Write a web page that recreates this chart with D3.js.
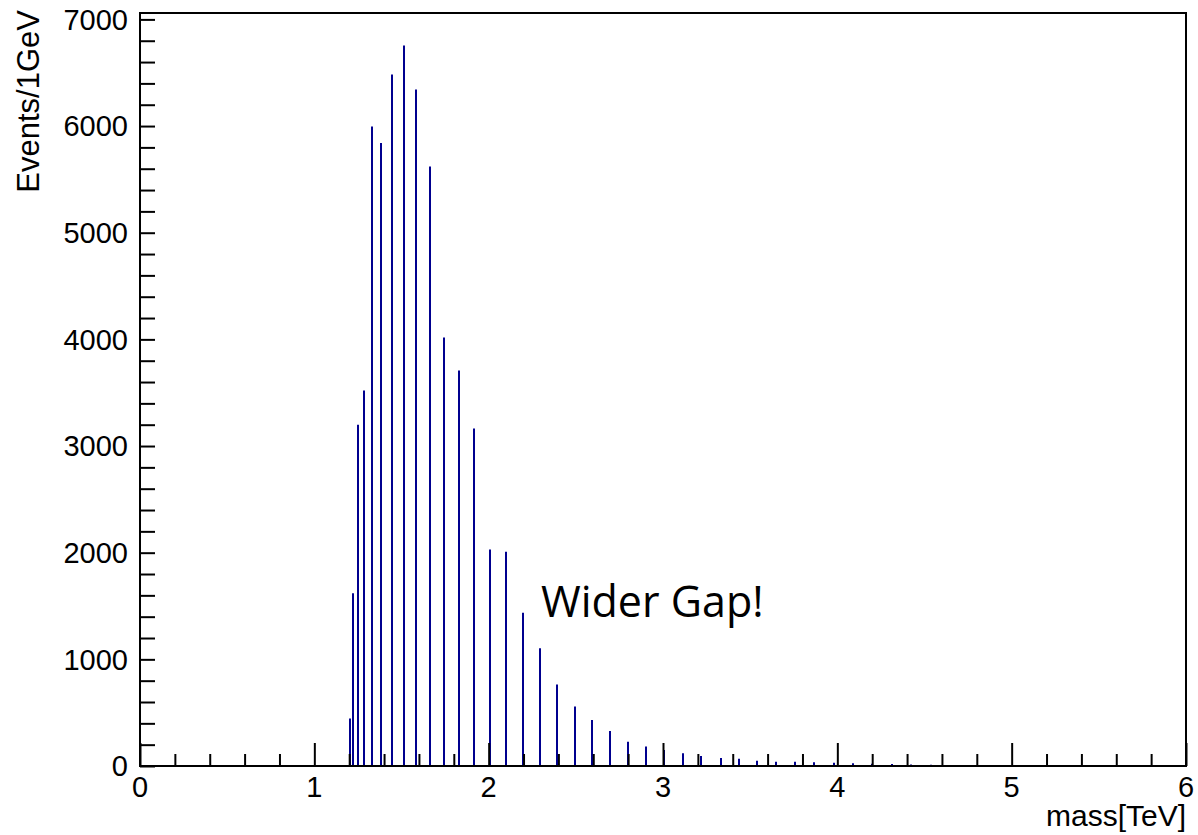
<!DOCTYPE html>
<html>
<head>
<meta charset="utf-8">
<script src="https://cdn.jsdelivr.net/npm/d3@7"></script>
<style>
  body { margin: 0; background: #fff; }
  svg { display: block; }
</style>
</head>
<body>
<svg id="chart"></svg>
<script>
// spike positions in TeV (one 1 GeV bin each) and their contents
const masses = [1.206, 1.221, 1.250, 1.286, 1.332, 1.385, 1.447, 1.512, 1.586, 1.661,
    1.745, 1.827, 1.917, 2.007, 2.101, 2.195, 2.292, 2.392, 2.493, 2.593,
    2.696, 2.800, 2.903, 3.008, 3.113, 3.220, 3.330, 3.434, 3.542, 3.651,
    3.760, 3.869, 3.980, 4.091, 4.200, 4.315, 4.420, 4.535, 4.640, 4.753,
    4.860, 4.970, 5.080, 5.190, 5.300, 5.410, 5.520, 5.630, 5.740, 5.850, 5.960];
const events = [445, 1620, 3200, 3520, 5995, 5840, 6483, 6755, 6342, 5620,
    4018, 3709, 3165, 2030, 2009, 1438, 1103, 763, 557, 431,
    328, 228, 182, 150, 119, 94, 75, 69, 50, 41,
    41, 35, 30, 25, 20, 18, 14, 12, 10, 9,
    8, 7, 6, 5, 5, 4, 4, 3, 3, 2, 2];

const xMajor = [0, 1, 2, 3, 4, 5, 6];
const yMajor = [0, 1000, 2000, 3000, 4000, 5000, 6000, 7000];
const xLabel = "mass[TeV]";
const yLabel = "Events/1GeV";
const note = "Wider Gap!";

const W = 1198, H = 835;
const frame = {left: 140, right: 1186, top: 13, bottom: 766};
const histColor = "#00008f";

const x = d3.scaleLinear().domain([0, 6]).range([frame.left, frame.right]);
const y = d3.scaleLinear().domain([0, 7060]).range([frame.bottom, frame.top]);

const svg = d3.select("#chart").attr("width", W).attr("height", H);
svg.append("rect").attr("width", W).attr("height", H).attr("fill", "#fff");

const data = masses.map((m, i) => ({m: m, n: events[i]}));

// baseline of the histogram
svg.append("line")
    .attr("x1", x(0)).attr("x2", x(6))
    .attr("y1", y(0)).attr("y2", y(0))
    .attr("stroke", histColor)
    .attr("stroke-width", 2);

// spikes, snapped to whole pixels so they stay crisp
svg.append("g")
    .selectAll("line")
    .data(data)
    .join("line")
    .attr("x1", d => Math.round(x(d.m)))
    .attr("x2", d => Math.round(x(d.m)))
    .attr("y1", y(0))
    .attr("y2", d => y(d.n))
    .attr("stroke", histColor)
    .attr("stroke-width", 2);

// frame
svg.append("rect")
    .attr("x", frame.left).attr("y", frame.top)
    .attr("width", frame.right - frame.left)
    .attr("height", frame.bottom - frame.top)
    .attr("fill", "none")
    .attr("stroke", "#000")
    .attr("stroke-width", 2);

const xMinor = d3.range(0, 31).map(i => i * 0.2).filter(v => Math.abs(v - Math.round(v)) > 1e-6);
const yMinor = d3.range(0, 36).map(i => i * 200).filter(v => v % 1000 !== 0);

// x axis: ticks point up into the frame
const xAxis = svg.append("g").attr("transform", "translate(0," + frame.bottom + ")");
xAxis.call(d3.axisTop(x).tickValues(xMinor).tickSize(12).tickFormat(""));
xAxis.call(g => g.select(".domain").remove());
const xAxisMajor = svg.append("g").attr("transform", "translate(0," + frame.bottom + ")");
xAxisMajor.call(d3.axisTop(x).tickValues(xMajor).tickSize(23).tickFormat(""));
xAxisMajor.call(g => g.select(".domain").remove());
svg.selectAll(".tick line").attr("stroke-width", 2);

svg.append("g")
    .attr("font-family", "'Liberation Sans', Arial, sans-serif")
    .attr("font-size", 29)
    .attr("text-anchor", "middle")
    .selectAll("text")
    .data(xMajor)
    .join("text")
    .attr("x", d => x(d))
    .attr("y", 797)
    .text(d => d);

// y axis: ticks point right into the frame
const yAxis = svg.append("g").attr("transform", "translate(" + frame.left + ",0)");
yAxis.call(d3.axisRight(y).tickValues(yMinor.concat(yMajor)).tickSize(15).tickFormat(""));
yAxis.call(g => g.select(".domain").remove());
yAxis.selectAll(".tick line").attr("stroke-width", 2);

svg.append("g")
    .attr("font-family", "'Liberation Sans', Arial, sans-serif")
    .attr("font-size", 29)
    .attr("text-anchor", "end")
    .selectAll("text")
    .data(yMajor)
    .join("text")
    .attr("x", 128)
    .attr("y", d => y(d))
    .attr("dy", "0.36em")
    .text(d => d);

// axis titles
svg.append("text")
    .attr("x", frame.right)
    .attr("y", 826)
    .attr("text-anchor", "end")
    .attr("font-family", "'Liberation Sans', Arial, sans-serif")
    .attr("font-size", 30)
    .text(xLabel);

svg.append("text")
    .attr("transform", "translate(39,10) rotate(-90)")
    .attr("text-anchor", "end")
    .attr("font-family", "'Liberation Sans', Arial, sans-serif")
    .attr("font-size", 31)
    .text(yLabel);

// annotation
svg.append("text")
    .attr("x", 541)
    .attr("y", 617)
    .attr("font-family", "'Open Sans', sans-serif")
    .attr("font-size", 43)
    .attr("fill", "#000")
    .text(note);
</script>
</body>
</html>
